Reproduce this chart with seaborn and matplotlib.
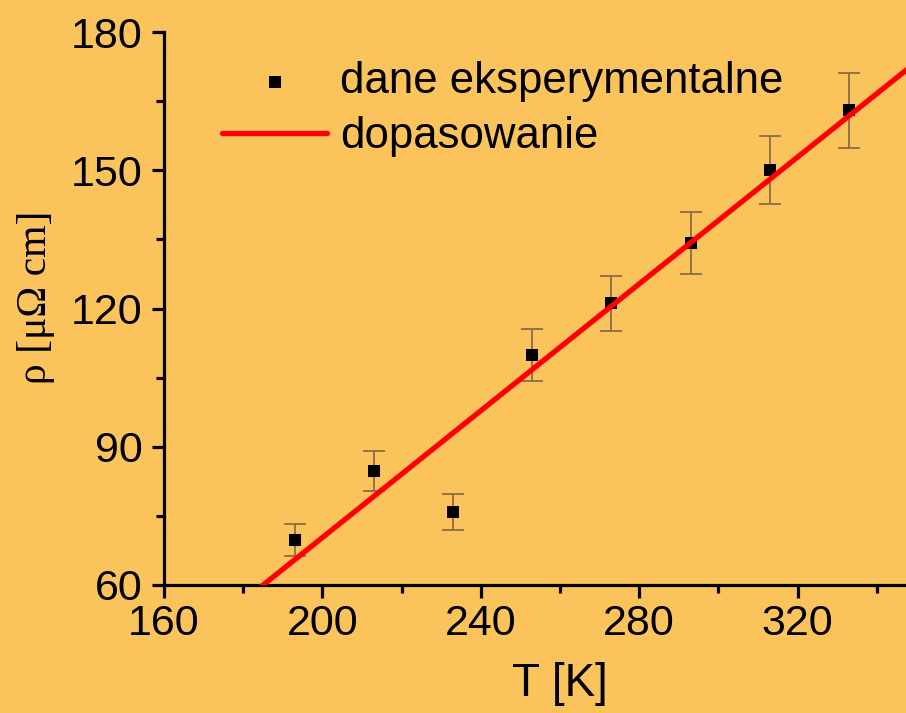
import matplotlib
matplotlib.use('Agg')
import matplotlib.pyplot as plt
import seaborn as sns
import numpy as np
import pandas as pd
from matplotlib.ticker import MultipleLocator

# data
temperature = [193, 213, 233, 253, 273, 293, 313, 333]
resistivity = [69.8, 84.8, 75.8, 109.9, 121.1, 134.2, 150.0, 163.0]
rho_error = [3.5, 4.3, 3.9, 5.6, 6.0, 6.7, 7.4, 8.2]

# linear fit rho = a*T + b
fit_slope = 0.688
fit_intercept = -67.3
fit_range = [160, 360]

x_ticks = [160, 200, 240, 280, 320]
y_ticks = [60, 90, 120, 150, 180]

bg = '#FBC35B'

sns.set_theme(style='ticks')
plt.rcParams['font.family'] = ['Liberation Sans', 'DejaVu Sans']
plt.rcParams['text.color'] = 'black'
plt.rcParams['axes.labelcolor'] = 'black'

df = pd.DataFrame({'T': temperature, 'rho': resistivity, 'err': rho_error})
fit_df = pd.DataFrame({'T': fit_range})
fit_df['rho'] = fit_slope * fit_df['T'] + fit_intercept

fig = plt.figure(figsize=(9.06, 7.13), dpi=100, facecolor=bg)
# axes runs past the right edge like the cropped original
ax = fig.add_axes([164 / 906, 128 / 713, 792 / 906, 553 / 713])
ax.set_facecolor(bg)

ax.errorbar(df['T'], df['rho'], yerr=df['err'], fmt='none', ecolor='#8c6c48',
            elinewidth=1.3, capsize=8, capthick=1.3, zorder=2)
sns.scatterplot(data=df, x='T', y='rho', marker='s', color='black', s=75,
                linewidth=0, ax=ax, zorder=3, label='dane eksperymentalne')
sns.lineplot(data=fit_df, x='T', y='rho', color='#FF0000', linewidth=3.8,
             ax=ax, zorder=4, label='dopasowanie')

ax.set_xlim(160, 360)
ax.set_ylim(60, 180)
ax.set_xticks(x_ticks)
ax.set_yticks(y_ticks)
ax.xaxis.set_minor_locator(MultipleLocator(20))
ax.yaxis.set_minor_locator(MultipleLocator(15))

for side in ['top', 'right']:
    ax.spines[side].set_visible(False)
for side in ['left', 'bottom']:
    ax.spines[side].set_linewidth(2.3)
    ax.spines[side].set_color('black')

ax.tick_params(which='major', direction='out', length=9, width=2.3,
               labelsize=31, colors='black')
ax.tick_params(which='minor', direction='out', length=5.5, width=2.3, colors='black')
ax.tick_params(axis='x', which='major', pad=5)
ax.tick_params(axis='y', which='major', pad=6.5)

ax.set_xlabel('T [K]', fontsize=33, color='black')
ax.xaxis.set_label_coords(0.5, -0.139)
ax.set_ylabel('ρ [μΩ cm]', fontsize=30, color='black',
              family=['Liberation Serif', 'DejaVu Serif'])
ax.yaxis.set_label_coords(-0.138, 0.52)

leg = ax.legend(loc='upper left', bbox_to_anchor=(222 / 906, 1 - 61 / 713),
                bbox_transform=fig.transFigure, frameon=False, fontsize=31.5,
                borderpad=0, borderaxespad=0, handlelength=2.4, handletextpad=0.3,
                labelspacing=0.33, markerscale=1.0)
for t in leg.get_texts():
    t.set_color('black')

fig.savefig('out.png', dpi=100, facecolor=bg)
